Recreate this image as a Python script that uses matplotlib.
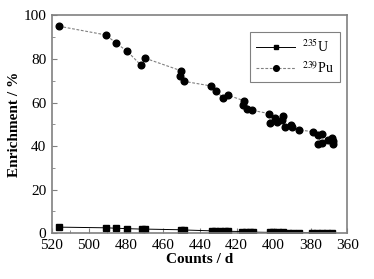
import numpy as np
import matplotlib.pyplot as plt
from matplotlib.ticker import MultipleLocator

plt.rcParams['font.family'] = ['Liberation Serif', 'DejaVu Serif']
plt.rcParams['mathtext.fontset'] = 'stix'

# 235U
u_counts = [516.2, 490.9, 485.2, 479.2, 471.4, 469.5, 450.3, 448.5, 433.5, 431.7,
            429.0, 426.3, 424.5, 417.0, 415.1, 412.8, 411.3, 402.0, 400.2, 397.5,
            395.1, 392.1, 389.7, 386.1, 379.4, 376.7, 374.0, 371.3, 368.6]
u_enrich = [2.8, 2.5, 2.3, 2.1, 1.9, 1.9, 1.6, 1.5, 1.1, 1.1,
            1.0, 0.9, 0.9, 0.8, 0.7, 0.6, 0.5, 0.4, 0.4, 0.4,
            0.4, 0.3, 0.3, 0.3, 0.2, 0.2, 0.2, 0.2, 0.2]

# 239Pu
pu_counts = [516.2, 490.8, 485.2, 479.4, 472.0, 469.8, 450.2, 450.5, 448.4, 433.9,
             431.0, 427.4, 424.5, 416.0, 416.7, 414.2, 411.5, 402.3, 401.8, 399.1,
             398.4, 395.0, 395.5, 393.7, 390.6, 389.9, 386.1, 378.6, 376.2, 374.0,
             375.9, 374.0, 370.4, 368.2, 367.7, 367.7]
pu_enrich = [95.0, 91.0, 87.2, 83.6, 77.3, 80.4, 74.6, 72.0, 69.7, 67.6,
             65.4, 61.9, 63.3, 60.8, 58.7, 57.2, 56.4, 54.9, 50.5, 52.8,
             50.9, 53.8, 52.0, 48.9, 49.7, 48.6, 47.4, 46.6, 45.0, 45.6,
             41.0, 41.6, 42.8, 43.7, 42.5, 41.0]


def main():
    fig = plt.figure(figsize=(3.74, 2.79), dpi=100)
    ax = fig.add_axes([0.139, 0.164, 0.79, 0.781])

    ax.plot(u_counts, u_enrich, color='black', lw=0.7, marker='s', ms=4.2,
            label='$^{235}$U')
    ax.plot(pu_counts, pu_enrich, color='#808080', lw=0.8, ls='--',
            dashes=(2.5, 1.5), marker='o', ms=4.8, mfc='black', mec='black',
            label='$^{239}$Pu')

    ax.set_xlim(520, 360)
    ax.set_ylim(0, 100)
    ax.xaxis.set_major_locator(MultipleLocator(20))
    ax.xaxis.set_minor_locator(MultipleLocator(10))
    ax.yaxis.set_major_locator(MultipleLocator(20))
    ax.yaxis.set_minor_locator(MultipleLocator(10))
    ax.tick_params(which='both', direction='in', color='#808080', labelsize=11)
    ax.tick_params(axis='x', pad=4)
    ax.tick_params(axis='y', pad=4)
    ax.tick_params(which='major', length=3.5)
    ax.tick_params(which='minor', length=2)
    for s in ax.spines.values():
        s.set_color('#808080')
        s.set_linewidth(1.2)

    ax.set_xlabel('Counts / d', fontsize=11, fontweight='bold', labelpad=1)
    ax.set_ylabel('Enrichment / %', fontsize=11, fontweight='bold', labelpad=2)

    leg = ax.legend(loc='upper right', bbox_to_anchor=(0.975, 0.923), fontsize=10,
                    fancybox=False, framealpha=1, edgecolor='#808080',
                    borderaxespad=0, handlelength=2.8, handletextpad=0.5,
                    borderpad=0.45, labelspacing=0.35, markerscale=0.85)
    leg.get_frame().set_linewidth(0.8)

    fig.savefig('out.png', dpi=100)


if __name__ == '__main__':
    main()
